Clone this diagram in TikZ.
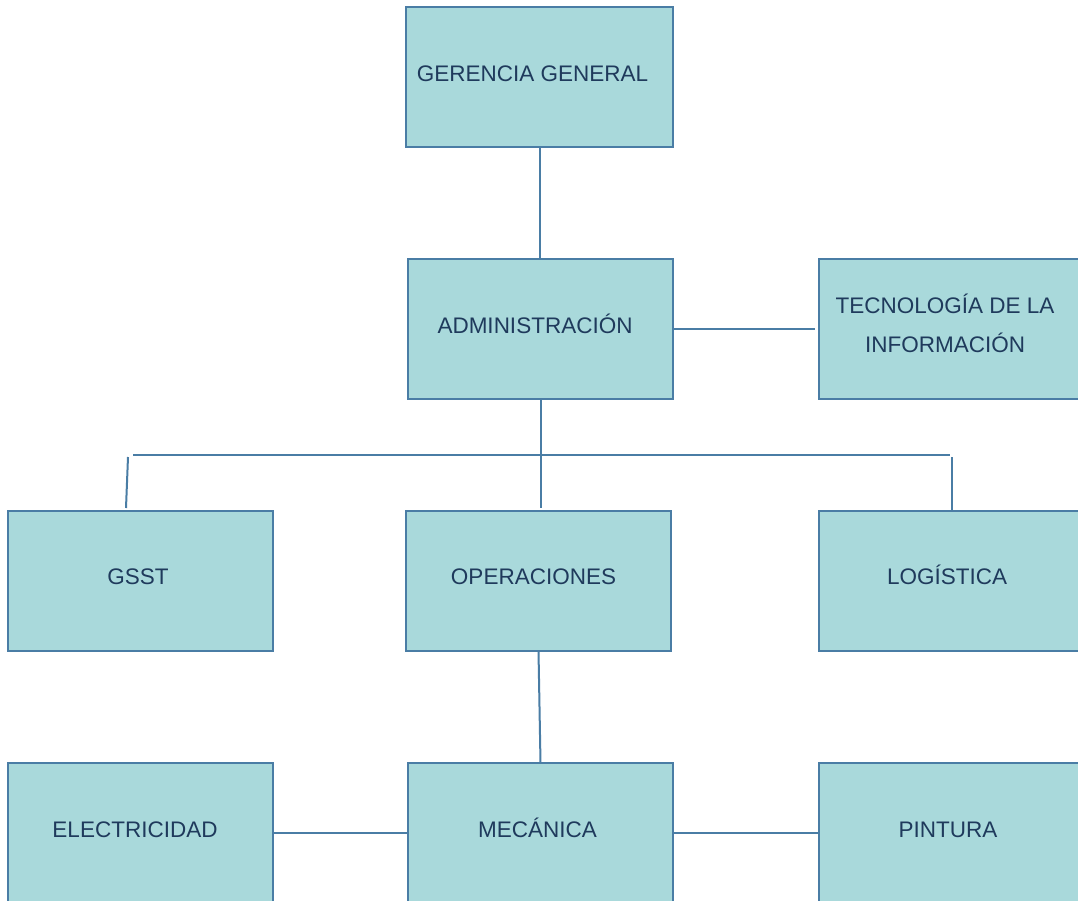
\documentclass[tikz,border=0pt]{standalone}
\usepackage{fontspec}
\setmainfont{Liberation Sans}
\usetikzlibrary{calc}
\definecolor{boxfill}{HTML}{A9D9DB}
\definecolor{boxline}{HTML}{4A7DA5}
\definecolor{boxtext}{HTML}{1F3A5C}
\tikzset{
  unitbox/.style={draw=boxline, fill=boxfill, line width=2pt, outer sep=0pt,
                  minimum width=265pt, minimum height=140pt, anchor=north west, inner sep=0pt},
  unitlabel/.style={text=boxtext, anchor=base, inner sep=0pt,
                    font=\fontsize{22.5pt}{39pt}\selectfont},
  link/.style={draw=boxline, line width=2pt}
}
\begin{document}
\begin{tikzpicture}[x=1pt,y=-1pt]
\useasboundingbox (0,0) rectangle (1078,901);
\clip (0,0) rectangle (1078,901);
\fill[white] (0,0) rectangle (1078,901);

% organisational units
\node[unitbox, minimum width=267pt] (ger) at (406,7) {};
\node[unitbox] (adm) at (408,259) {};
\node[unitbox] (tec) at (819,259) {};
\node[unitbox] (gss) at (8,511) {};
\node[unitbox] (ope) at (406,511) {};
\node[unitbox] (log) at (819,511) {};
\node[unitbox] (ele) at (8,763) {};
\node[unitbox] (mec) at (408,763) {};
\node[unitbox] (pin) at (819,763) {};

% unit names
\node[unitlabel] (tger) at (532.5,81.5) {GERENCIA GENERAL};
\node[unitlabel] (tadm) at (535,333.5) {ADMINISTRACIÓN};
\node[unitlabel, align=center, anchor=north] (ttec) at (945,294) {TECNOLOGÍA DE LA\\INFORMACIÓN};
\node[unitlabel] (tgss) at (138,584.5) {GSST};
\node[unitlabel] (tope) at (533.5,584.5) {OPERACIONES};
\node[unitlabel] (tlog) at (947,584.5) {LOGÍSTICA};
\node[unitlabel] (tele) at (135,837.5) {ELECTRICIDAD};
\node[unitlabel] (tmec) at (537.5,837.5) {MECÁNICA};
\node[unitlabel] (tpin) at (948,837.5) {PINTURA};

% free ends of the connectors
\coordinate (tecend) at (815,329);
\coordinate (admdrop) at ($(adm.south)+(0,109)$);
\coordinate (barL) at (133,455);
\coordinate (barR) at (950,455);
\coordinate (gssT) at (128,457);
\coordinate (gssB) at (126,508);
\coordinate (logT) at (952,457);
\coordinate (logB) at (952,511);

% connectors
\draw[link] (ger.south) -- (ger.south |- adm.north);
\draw[link] (adm.east) -- (tecend);
\draw[link] (adm.south) -- (admdrop);
\draw[link] (barL) -- (barR);
\draw[link] (gssT) -- (gssB);
\draw[link] (logT) -- (logB);
\draw[link] (ope.south) -- (mec.north);
\draw[link] (ele.east) -- (mec.west);
\draw[link] (mec.east) -- (pin.west);
\end{tikzpicture}
\end{document}
